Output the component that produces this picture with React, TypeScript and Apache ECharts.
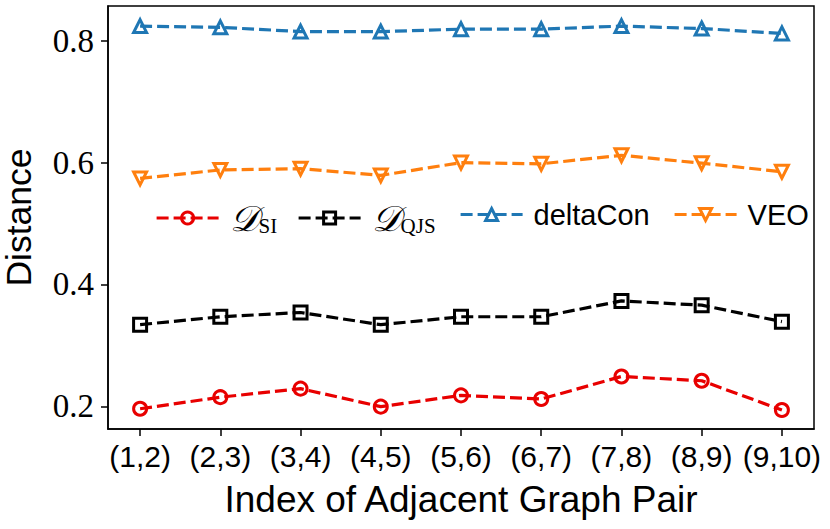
import React, { useEffect, useRef } from "react";
import * as echarts from "echarts";

const pairs = ["(1,2)", "(2,3)", "(3,4)", "(4,5)", "(5,6)", "(6,7)", "(7,8)", "(8,9)", "(9,10)"];
const dSI = [0.196, 0.215, 0.229, 0.1995, 0.218, 0.212, 0.249, 0.242, 0.194];
const dQJS = [0.334, 0.347, 0.354, 0.334, 0.347, 0.347, 0.373, 0.366, 0.339];
const deltaCon = [0.824, 0.822, 0.815, 0.815, 0.819, 0.819, 0.824, 0.82, 0.812];
const veo = [0.574, 0.588, 0.59, 0.579, 0.6, 0.598, 0.612, 0.599, 0.585];
const yTicks = [0.2, 0.4, 0.6, 0.8];

const seriesNames = ["𝒟_SI", "𝒟_QJS", "deltaCon", "VEO"];
const seriesColors = ["#e80000", "#000000", "#1f77b4", "#ff7f0e"];

export default function App() {
  const ref = useRef<HTMLDivElement>(null);
  useEffect(() => {
    document.body.style.margin = "0";
    const chart = echarts.init(ref.current!, undefined, { renderer: "svg" });
    const idx = pairs.map((_, i) => i);
    const toData = (arr: number[]) => arr.map((v, i) => [i, v]);
    const mk = (name: string, data: number[], color: string, symbol: string, rotate = 0) => ({
      name,
      type: "line",
      data: toData(data),
      symbol,
      symbolSize: 13,
      symbolRotate: rotate,
      lineStyle: { color, width: 3.2, type: [12, 5] },
      itemStyle: { color: "transparent", borderColor: color, borderWidth: 3 },
      emphasis: { disabled: true },
      z: 3,
    });
    const legendFmt = (n: string) => {
      if (n === "𝒟_SI") return "{d|𝒟}{s|SI}";
      if (n === "𝒟_QJS") return "{d|𝒟}{s|QJS}";
      return n;
    };
    const legendText = {
      fontFamily: "Liberation Sans",
      fontSize: 29,
      color: "#000",
      padding: [0, 0, 0, 6],
      rich: {
        d: { fontFamily: "DejaVu Serif", fontSize: 36, fontStyle: "italic", color: "#000", lineHeight: 36 },
        s: { fontFamily: "Liberation Serif", fontSize: 21, color: "#000", lineHeight: 21, verticalAlign: "bottom" },
      },
    };
    const legendLefts = [150, 292, 454, 668];
    chart.setOption({
      animation: false,
      grid: {
        left: 108, right: 16, top: 6, bottom: 100,
        outerBoundsMode: "none", containLabel: false,
        show: true, borderColor: "#000", borderWidth: 1.5, backgroundColor: "transparent",
      },
      legend: seriesNames.map((n, i) => ({
        data: [n],
        left: legendLefts[i],
        top: 195,
        itemWidth: 62,
        itemHeight: 15,
        formatter: legendFmt,
        textStyle: legendText,
        selectedMode: false,
        lineStyle: { color: seriesColors[i], width: 3.2, type: [12, 5] },
        itemStyle: { color: "transparent", borderColor: seriesColors[i], borderWidth: 3 },
      })),
      xAxis: {
        type: "value",
        min: -0.4,
        max: 8.4,
        name: "Index of Adjacent Graph Pair",
        nameLocation: "middle",
        nameGap: 52,
        nameTextStyle: { fontFamily: "Liberation Sans", fontSize: 37, color: "#000" },
        axisLine: { show: true, onZero: false, lineStyle: { color: "#000", width: 1.5 } },
        axisTick: { show: true, customValues: idx, length: 7, lineStyle: { color: "#000", width: 1.5 } },
        axisLabel: {
          customValues: idx,
          margin: 12,
          fontFamily: "Liberation Sans",
          fontSize: 30,
          color: "#000",
          formatter: (v: number) => pairs[Math.round(v)] ?? "",
        },
        splitLine: { show: false },
      },
      yAxis: {
        type: "value",
        min: 0.1628,
        max: 0.857,
        name: "Distance",
        nameLocation: "middle",
        nameGap: 71,
        nameTextStyle: { fontFamily: "Liberation Sans", fontSize: 35.5, color: "#000" },
        axisLine: { show: true, onZero: false, lineStyle: { color: "#000", width: 1.5 } },
        axisTick: { show: true, customValues: yTicks, length: 7, lineStyle: { color: "#000", width: 1.5 } },
        axisLabel: {
          customValues: yTicks,
          margin: 14,
          fontFamily: "Liberation Serif",
          fontSize: 33,
          color: "#000",
          formatter: (v: number) => v.toFixed(1),
        },
        splitLine: { show: false },
      },
      series: [
        mk(seriesNames[0], dSI, seriesColors[0], "circle"),
        mk(seriesNames[1], dQJS, seriesColors[1], "rect"),
        mk(seriesNames[2], deltaCon, seriesColors[2], "triangle"),
        mk(seriesNames[3], veo, seriesColors[3], "triangle", 180),
      ],
    });
    return () => chart.dispose();
  }, []);
  return <div ref={ref} style={{ width: 830, height: 529 }} />;
}
